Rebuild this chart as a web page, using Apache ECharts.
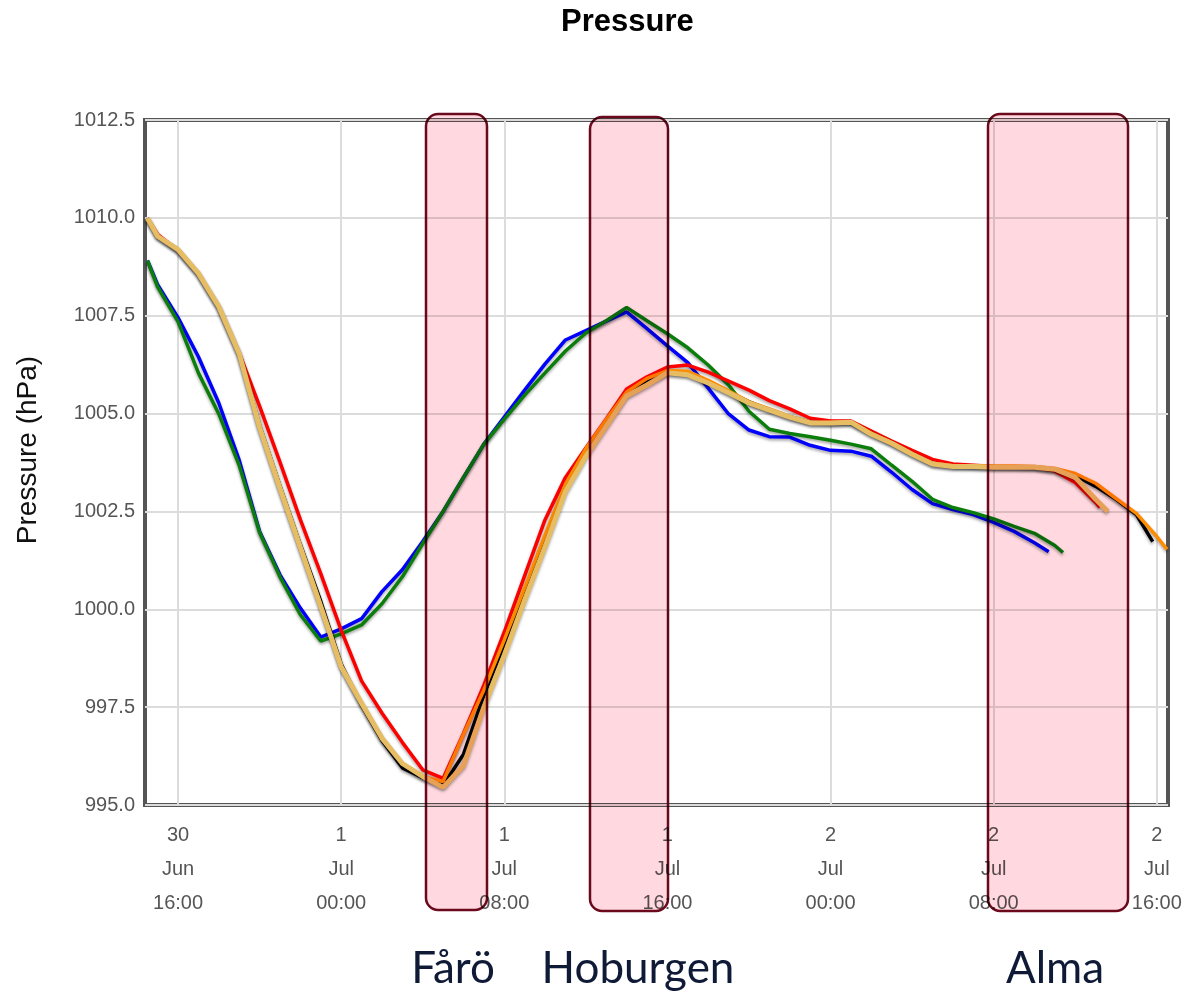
<!DOCTYPE html>
<html>
<head>
<meta charset="utf-8">
<script src="https://cdn.jsdelivr.net/npm/echarts@6/dist/echarts.min.js"></script>
<style>
  html, body { margin: 0; padding: 0; background: #fff; }
  #chart { width: 1191px; height: 997px; }
</style>
</head>
<body>
<div id="chart"></div>
<script>
// Hours since 30 Jun 00:00. Index 0 = 14.5, index k = 14 + k; the last value of each series sits at its end hour.
const startHour = 14.5;
const blueEnd = 58.7, greenEnd = 59.4, redEnd = 61.2, tanEnd = 61.6, blackEnd = 63.8, orangeEnd = 64.5;

const blue = [1008.91, 1008.29, 1007.45, 1006.45, 1005.27, 1003.81, 1001.99, 1000.88, 1000.03, 999.29, 999.5, 999.76, 1000.45, 1001.01, 1001.73, 1002.5, 1003.37, 1004.22, 1004.91, 1005.6, 1006.27, 1006.88, 1007.12, 1007.36, 1007.6, 1007.17, 1006.73, 1006.3, 1005.65, 1004.99, 1004.58, 1004.41, 1004.4, 1004.19, 1004.06, 1004.04, 1003.91, 1003.5, 1003.06, 1002.7, 1002.55, 1002.42, 1002.22, 1001.99, 1001.7, 1001.47];
const green = [1008.91, 1008.24, 1007.35, 1006.04, 1004.99, 1003.68, 1001.96, 1000.83, 999.86, 999.19, 999.37, 999.6, 1000.14, 1000.83, 1001.68, 1002.5, 1003.37, 1004.22, 1004.86, 1005.47, 1006.04, 1006.6, 1007.06, 1007.37, 1007.71, 1007.37, 1007.04, 1006.68, 1006.24, 1005.73, 1005.06, 1004.6, 1004.49, 1004.41, 1004.32, 1004.22, 1004.1, 1003.68, 1003.27, 1002.81, 1002.6, 1002.47, 1002.31, 1002.12, 1001.94, 1001.63, 1001.45];
const red = [1009.99, 1009.58, 1009.17, 1008.58, 1007.73, 1006.55, 1005.19, 1003.76, 1002.29, 1000.91, 999.47, 998.17, 997.35, 996.6, 995.9, 995.68, 996.83, 998.06, 999.42, 1000.86, 1002.29, 1003.37, 1004.12, 1004.86, 1005.63, 1005.94, 1006.19, 1006.24, 1006.06, 1005.83, 1005.6, 1005.33, 1005.12, 1004.88, 1004.81, 1004.81, 1004.55, 1004.3, 1004.06, 1003.83, 1003.71, 1003.68, 1003.65, 1003.64, 1003.63, 1003.53, 1003.24, 1002.73, 1002.6];
const black = [1009.99, 1009.53, 1009.19, 1008.58, 1007.73, 1006.53, 1004.7, 1003.15, 1001.65, 1000.2, 998.6, 997.55, 996.65, 995.95, 995.7, 995.5, 996.3, 997.8, 999.1, 1000.45, 1001.8, 1003.15, 1004.02, 1004.78, 1005.5, 1005.8, 1006.05, 1006.0, 1005.8, 1005.55, 1005.3, 1005.1, 1004.92, 1004.78, 1004.76, 1004.78, 1004.5, 1004.26, 1003.98, 1003.72, 1003.66, 1003.65, 1003.63, 1003.63, 1003.62, 1003.58, 1003.42, 1003.14, 1002.81, 1002.42, 1001.73];
const orange = [1009.99, 1009.53, 1009.19, 1008.58, 1007.73, 1006.53, 1004.68, 1003.12, 1001.6, 1000.1, 998.55, 997.6, 996.7, 996.05, 995.72, 995.6, 996.81, 997.94, 999.22, 1000.55, 1001.9, 1003.2, 1004.1, 1004.85, 1005.55, 1005.9, 1006.1, 1006.08, 1005.85, 1005.58, 1005.3, 1005.12, 1004.93, 1004.78, 1004.77, 1004.79, 1004.5, 1004.26, 1003.98, 1003.73, 1003.67, 1003.67, 1003.66, 1003.66, 1003.65, 1003.6, 1003.47, 1003.22, 1002.83, 1002.45, 1001.86, 1001.53];
const tan = [1009.99, 1009.53, 1009.19, 1008.58, 1007.73, 1006.53, 1004.65, 1003.09, 1001.58, 1000.07, 998.53, 997.6, 996.71, 996.06, 995.73, 995.45, 996.01, 997.5, 998.83, 1000.24, 1001.6, 1003.01, 1003.91, 1004.68, 1005.45, 1005.73, 1006.04, 1005.99, 1005.78, 1005.53, 1005.27, 1005.09, 1004.91, 1004.76, 1004.76, 1004.78, 1004.47, 1004.24, 1003.96, 1003.71, 1003.65, 1003.65, 1003.63, 1003.63, 1003.63, 1003.58, 1003.37, 1002.81, 1002.5];

const tickValues = [16, 24, 32, 40, 48, 56, 64];
const tickLabels = ['30\nJun\n16:00', '1\nJul\n00:00', '1\nJul\n08:00', '1\nJul\n16:00', '2\nJul\n00:00', '2\nJul\n08:00', '2\nJul\n16:00'];

const yTickFormat = v => v.toFixed(1);

const zones = [
  { name: 'Fårö', x: 426, y: 114, w: 61, h: 796, labelX: 453 },
  { name: 'Hoburgen', x: 590, y: 117, w: 78, h: 794, labelX: 638 },
  { name: 'Alma', x: 988, y: 114, w: 140, h: 797, labelX: 1055 }
];

function toPairs(values, endHour) {
  return values.map((v, i) => {
    let h;
    if (i === values.length - 1) h = endHour;
    else if (i === 0) h = startHour;
    else h = 14 + i;
    return [h, v];
  });
}

const shadow = { shadowColor: 'rgba(0,0,0,0.35)', shadowBlur: 3, shadowOffsetY: 2 };
function mkSeries(name, values, endHour, color, width) {
  return {
    name, type: 'line', data: toPairs(values, endHour), showSymbol: false, smooth: false,
    lineStyle: Object.assign({ color, width }, shadow), z: 3
  };
}

const chart = echarts.init(document.getElementById('chart'), null, { renderer: 'canvas' });
const graphics = [];
zones.forEach(z => {
  graphics.push({
    type: 'rect', z: 100,
    shape: { x: z.x, y: z.y, width: z.w, height: z.h, r: 12 },
    style: { fill: '#ffd9df', blend: 'multiply', stroke: '#6b0a1e', lineWidth: 2.5 }
  });
  graphics.push({
    type: 'text', z: 100, x: z.labelX, y: 969,
    style: { text: z.name, font: '44px Lato', fill: '#0e1a36', textAlign: 'center', textVerticalAlign: 'middle' }
  });
});
graphics.push({
  type: 'text', z: 50, x: 28, y: 450, rotation: Math.PI / 2,
  style: { text: 'Pressure (hPa)', font: '28px "Liberation Sans"', fill: '#111', textAlign: 'center', textVerticalAlign: 'middle' }
});

chart.setOption({
  animation: false,
  backgroundColor: '#fff',
  title: {
    text: 'Pressure', left: 556, top: 2,
    textStyle: { fontFamily: 'Liberation Sans', fontWeight: 'bold', fontSize: 31, color: '#000' }
  },
  grid: { left: 145, right: 23, top: 120, bottom: 192, containLabel: false, outerBoundsMode: 'none', show: true, borderColor: '#555', borderWidth: 4, backgroundColor: 'transparent' },
  xAxis: {
    type: 'value', min: 14.38, max: 64.55,
    axisLine: { show: false },
    axisTick: { show: false, customValues: tickValues },
    axisLabel: {
      customValues: tickValues,
      formatter: v => tickLabels[tickValues.indexOf(v)] || '',
      fontFamily: 'Liberation Sans', fontSize: 20, color: '#555', lineHeight: 34, margin: 13
    },
    splitLine: { show: true, lineStyle: { color: '#dcdcdc', width: 2 } }
  },
  yAxis: {
    type: 'value', min: 995, max: 1012.5, interval: 2.5,
    axisLine: { show: false }, axisTick: { show: false },
    axisLabel: { formatter: yTickFormat, fontFamily: 'Liberation Sans', fontSize: 20, color: '#555', margin: 10 },
    splitLine: { show: true, lineStyle: { color: '#dcdcdc', width: 2 } }
  },
  series: [
    mkSeries('Blue', blue, blueEnd, '#0000ff', 3.5),
    mkSeries('Green', green, greenEnd, '#0a7d0a', 3.5),
    mkSeries('Red', red, redEnd, '#ff0000', 3.5),
    mkSeries('Black', black, blackEnd, '#000000', 3.5),
    mkSeries('Orange', orange, orangeEnd, '#ff8c00', 3.5),
    mkSeries('Tan', tan, tanEnd, '#e6bd62', 5)
  ],
  graphic: graphics
});
</script>
</body>
</html>
